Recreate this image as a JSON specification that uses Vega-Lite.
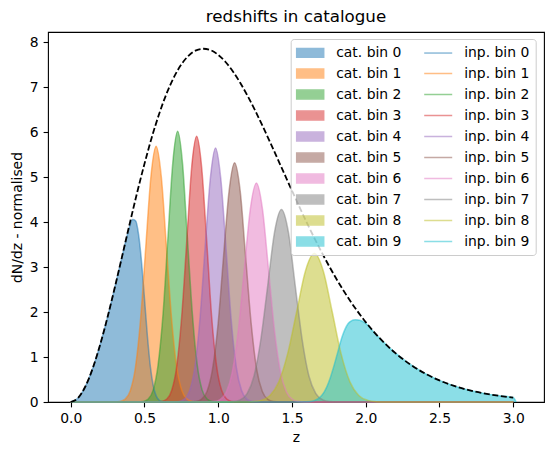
{
  "$schema": "https://vega.github.io/schema/vega-lite/v6.json",
  "width": 496,
  "height": 370,
  "autosize": {"type": "none"},
  "padding": {"left": 48, "top": 32, "right": 10, "bottom": 53},
  "background": "white",
  "config": {
    "view": {"stroke": "black", "strokeWidth": 1.1},
    "font": "DejaVu Sans",
    "axis": {"grid": false, "domain": false, "tickColor": "black", "tickWidth": 1.1, "tickSize": 4.9, "labelPadding": 4.9, "labelFontSize": 13.9, "labelColor": "black", "titleFontSize": 13.9, "titleFontWeight": "normal", "titleColor": "black", "labelFont": "DejaVu Sans", "titleFont": "DejaVu Sans"},
    "legend": {
      "title": null, "orient": "none", "legendX": 242.7, "legendY": 7, "columns": 2, "columnPadding": 19, "rowPadding": 5, "padding": 5.5,
      "fillColor": "rgba(255,255,255,0.8)", "strokeColor": "#cccccc", "cornerRadius": 3,
      "symbolSize": 196, "symbolOffset": 6, "labelOffset": 18, "symbolStrokeWidth": 1.5, "symbolOpacity": 0.5,
      "labelFontSize": 13.9, "labelFont": "DejaVu Sans", "labelColor": "black"
    }
  },
  "title": {"text": "redshifts in catalogue", "fontSize": 16.7, "fontWeight": "normal", "font": "DejaVu Sans", "color": "black", "anchor": "middle", "offset": 6},
  "datasets": {
    "bins": [
      {"c":"cat. bin 0","i":"inp. bin 0","z":0,"n":0},{"c":"cat. bin 0","i":"inp. bin 0","z":0.05,"n":0.090},{"c":"cat. bin 0","i":"inp. bin 0","z":0.10,"n":0.350},{"c":"cat. bin 0","i":"inp. bin 0","z":0.15,"n":0.756},{"c":"cat. bin 0","i":"inp. bin 0","z":0.20,"n":1.280},{"c":"cat. bin 0","i":"inp. bin 0","z":0.25,"n":1.892},{"c":"cat. bin 0","i":"inp. bin 0","z":0.30,"n":2.562},{"c":"cat. bin 0","i":"inp. bin 0","z":0.35,"n":3.261},{"c":"cat. bin 0","i":"inp. bin 0","z":0.38,"n":3.671},{"c":"cat. bin 0","i":"inp. bin 0","z":0.40,"n":3.908},{"c":"cat. bin 0","i":"inp. bin 0","z":0.42,"n":4.057},{"c":"cat. bin 0","i":"inp. bin 0","z":0.44,"n":4.030},{"c":"cat. bin 0","i":"inp. bin 0","z":0.46,"n":3.730},{"c":"cat. bin 0","i":"inp. bin 0","z":0.48,"n":3.125},{"c":"cat. bin 0","i":"inp. bin 0","z":0.50,"n":2.304},{"c":"cat. bin 0","i":"inp. bin 0","z":0.52,"n":1.463},{"c":"cat. bin 0","i":"inp. bin 0","z":0.54,"n":0.786},{"c":"cat. bin 0","i":"inp. bin 0","z":0.56,"n":0.353},{"c":"cat. bin 0","i":"inp. bin 0","z":0.58,"n":0.130},{"c":"cat. bin 0","i":"inp. bin 0","z":0.60,"n":0.040},{"c":"cat. bin 0","i":"inp. bin 0","z":0.62,"n":0.010},{"c":"cat. bin 0","i":"inp. bin 0","z":0.66,"n":0},{"c":"cat. bin 0","i":"inp. bin 0","z":3.0,"n":0},

      {"c":"cat. bin 1","i":"inp. bin 1","z":0,"n":0},{"c":"cat. bin 1","i":"inp. bin 1","z":0.299,"n":0.002},{"c":"cat. bin 1","i":"inp. bin 1","z":0.334,"n":0.0125},{"c":"cat. bin 1","i":"inp. bin 1","z":0.369,"n":0.063},{"c":"cat. bin 1","i":"inp. bin 1","z":0.404,"n":0.250},{"c":"cat. bin 1","i":"inp. bin 1","z":0.439,"n":0.770},{"c":"cat. bin 1","i":"inp. bin 1","z":0.474,"n":1.848},{"c":"cat. bin 1","i":"inp. bin 1","z":0.509,"n":3.451},{"c":"cat. bin 1","i":"inp. bin 1","z":0.544,"n":5.021},{"c":"cat. bin 1","i":"inp. bin 1","z":0.579,"n":5.69},{"c":"cat. bin 1","i":"inp. bin 1","z":0.614,"n":5.021},{"c":"cat. bin 1","i":"inp. bin 1","z":0.649,"n":3.451},{"c":"cat. bin 1","i":"inp. bin 1","z":0.684,"n":1.848},{"c":"cat. bin 1","i":"inp. bin 1","z":0.719,"n":0.770},{"c":"cat. bin 1","i":"inp. bin 1","z":0.754,"n":0.250},{"c":"cat. bin 1","i":"inp. bin 1","z":0.789,"n":0.063},{"c":"cat. bin 1","i":"inp. bin 1","z":0.824,"n":0.0125},{"c":"cat. bin 1","i":"inp. bin 1","z":0.859,"n":0.002},{"c":"cat. bin 1","i":"inp. bin 1","z":3.0,"n":0},

      {"c":"cat. bin 2","i":"inp. bin 2","z":0,"n":0},{"c":"cat. bin 2","i":"inp. bin 2","z":0.460,"n":0.0018},{"c":"cat. bin 2","i":"inp. bin 2","z":0.493,"n":0.0132},{"c":"cat. bin 2","i":"inp. bin 2","z":0.526,"n":0.0668},{"c":"cat. bin 2","i":"inp. bin 2","z":0.559,"n":0.2643},{"c":"cat. bin 2","i":"inp. bin 2","z":0.592,"n":0.8145},{"c":"cat. bin 2","i":"inp. bin 2","z":0.626,"n":1.9547},{"c":"cat. bin 2","i":"inp. bin 2","z":0.659,"n":3.6511},{"c":"cat. bin 2","i":"inp. bin 2","z":0.692,"n":5.3127},{"c":"cat. bin 2","i":"inp. bin 2","z":0.725,"n":6.02},{"c":"cat. bin 2","i":"inp. bin 2","z":0.758,"n":5.3127},{"c":"cat. bin 2","i":"inp. bin 2","z":0.791,"n":3.6511},{"c":"cat. bin 2","i":"inp. bin 2","z":0.825,"n":1.9547},{"c":"cat. bin 2","i":"inp. bin 2","z":0.858,"n":0.8145},{"c":"cat. bin 2","i":"inp. bin 2","z":0.891,"n":0.2643},{"c":"cat. bin 2","i":"inp. bin 2","z":0.924,"n":0.0668},{"c":"cat. bin 2","i":"inp. bin 2","z":0.957,"n":0.0132},{"c":"cat. bin 2","i":"inp. bin 2","z":0.990,"n":0.0018},{"c":"cat. bin 2","i":"inp. bin 2","z":3.0,"n":0},

      {"c":"cat. bin 3","i":"inp. bin 3","z":0,"n":0},{"c":"cat. bin 3","i":"inp. bin 3","z":0.584,"n":0.0018},{"c":"cat. bin 3","i":"inp. bin 3","z":0.618,"n":0.0130},{"c":"cat. bin 3","i":"inp. bin 3","z":0.652,"n":0.0656},{"c":"cat. bin 3","i":"inp. bin 3","z":0.685,"n":0.2594},{"c":"cat. bin 3","i":"inp. bin 3","z":0.719,"n":0.7996},{"c":"cat. bin 3","i":"inp. bin 3","z":0.753,"n":1.919},{"c":"cat. bin 3","i":"inp. bin 3","z":0.787,"n":3.5844},{"c":"cat. bin 3","i":"inp. bin 3","z":0.820,"n":5.2156},{"c":"cat. bin 3","i":"inp. bin 3","z":0.854,"n":5.91},{"c":"cat. bin 3","i":"inp. bin 3","z":0.888,"n":5.2156},{"c":"cat. bin 3","i":"inp. bin 3","z":0.922,"n":3.5844},{"c":"cat. bin 3","i":"inp. bin 3","z":0.955,"n":1.919},{"c":"cat. bin 3","i":"inp. bin 3","z":0.989,"n":0.7996},{"c":"cat. bin 3","i":"inp. bin 3","z":1.023,"n":0.2594},{"c":"cat. bin 3","i":"inp. bin 3","z":1.057,"n":0.0656},{"c":"cat. bin 3","i":"inp. bin 3","z":1.090,"n":0.0130},{"c":"cat. bin 3","i":"inp. bin 3","z":1.124,"n":0.0018},{"c":"cat. bin 3","i":"inp. bin 3","z":3.0,"n":0},

      {"c":"cat. bin 4","i":"inp. bin 4","z":0,"n":0},{"c":"cat. bin 4","i":"inp. bin 4","z":0.700,"n":0.0017},{"c":"cat. bin 4","i":"inp. bin 4","z":0.735,"n":0.0124},{"c":"cat. bin 4","i":"inp. bin 4","z":0.770,"n":0.0627},{"c":"cat. bin 4","i":"inp. bin 4","z":0.806,"n":0.248},{"c":"cat. bin 4","i":"inp. bin 4","z":0.841,"n":0.7644},{"c":"cat. bin 4","i":"inp. bin 4","z":0.876,"n":1.8346},{"c":"cat. bin 4","i":"inp. bin 4","z":0.911,"n":3.4267},{"c":"cat. bin 4","i":"inp. bin 4","z":0.947,"n":4.9861},{"c":"cat. bin 4","i":"inp. bin 4","z":0.982,"n":5.65},{"c":"cat. bin 4","i":"inp. bin 4","z":1.017,"n":4.9861},{"c":"cat. bin 4","i":"inp. bin 4","z":1.053,"n":3.4267},{"c":"cat. bin 4","i":"inp. bin 4","z":1.088,"n":1.8346},{"c":"cat. bin 4","i":"inp. bin 4","z":1.123,"n":0.7644},{"c":"cat. bin 4","i":"inp. bin 4","z":1.159,"n":0.248},{"c":"cat. bin 4","i":"inp. bin 4","z":1.194,"n":0.0627},{"c":"cat. bin 4","i":"inp. bin 4","z":1.229,"n":0.0124},{"c":"cat. bin 4","i":"inp. bin 4","z":1.264,"n":0.0017},{"c":"cat. bin 4","i":"inp. bin 4","z":3.0,"n":0},

      {"c":"cat. bin 5","i":"inp. bin 5","z":0,"n":0},{"c":"cat. bin 5","i":"inp. bin 5","z":0.811,"n":0.0016},{"c":"cat. bin 5","i":"inp. bin 5","z":0.849,"n":0.0117},{"c":"cat. bin 5","i":"inp. bin 5","z":0.886,"n":0.0591},{"c":"cat. bin 5","i":"inp. bin 5","z":0.924,"n":0.2335},{"c":"cat. bin 5","i":"inp. bin 5","z":0.961,"n":0.7198},{"c":"cat. bin 5","i":"inp. bin 5","z":0.999,"n":1.7274},{"c":"cat. bin 5","i":"inp. bin 5","z":1.036,"n":3.2266},{"c":"cat. bin 5","i":"inp. bin 5","z":1.074,"n":4.6949},{"c":"cat. bin 5","i":"inp. bin 5","z":1.111,"n":5.32},{"c":"cat. bin 5","i":"inp. bin 5","z":1.149,"n":4.6949},{"c":"cat. bin 5","i":"inp. bin 5","z":1.186,"n":3.2266},{"c":"cat. bin 5","i":"inp. bin 5","z":1.224,"n":1.7274},{"c":"cat. bin 5","i":"inp. bin 5","z":1.261,"n":0.7198},{"c":"cat. bin 5","i":"inp. bin 5","z":1.299,"n":0.2335},{"c":"cat. bin 5","i":"inp. bin 5","z":1.336,"n":0.0591},{"c":"cat. bin 5","i":"inp. bin 5","z":1.374,"n":0.0117},{"c":"cat. bin 5","i":"inp. bin 5","z":1.411,"n":0.0016},{"c":"cat. bin 5","i":"inp. bin 5","z":3.0,"n":0},

      {"c":"cat. bin 6","i":"inp. bin 6","z":0,"n":0},{"c":"cat. bin 6","i":"inp. bin 6","z":0.931,"n":0.0015},{"c":"cat. bin 6","i":"inp. bin 6","z":0.972,"n":0.0107},{"c":"cat. bin 6","i":"inp. bin 6","z":1.013,"n":0.0541},{"c":"cat. bin 6","i":"inp. bin 6","z":1.054,"n":0.2138},{"c":"cat. bin 6","i":"inp. bin 6","z":1.095,"n":0.6589},{"c":"cat. bin 6","i":"inp. bin 6","z":1.136,"n":1.5813},{"c":"cat. bin 6","i":"inp. bin 6","z":1.177,"n":2.9537},{"c":"cat. bin 6","i":"inp. bin 6","z":1.218,"n":4.2978},{"c":"cat. bin 6","i":"inp. bin 6","z":1.259,"n":4.87},{"c":"cat. bin 6","i":"inp. bin 6","z":1.300,"n":4.2978},{"c":"cat. bin 6","i":"inp. bin 6","z":1.341,"n":2.9537},{"c":"cat. bin 6","i":"inp. bin 6","z":1.382,"n":1.5813},{"c":"cat. bin 6","i":"inp. bin 6","z":1.423,"n":0.6589},{"c":"cat. bin 6","i":"inp. bin 6","z":1.464,"n":0.2138},{"c":"cat. bin 6","i":"inp. bin 6","z":1.505,"n":0.0541},{"c":"cat. bin 6","i":"inp. bin 6","z":1.546,"n":0.0107},{"c":"cat. bin 6","i":"inp. bin 6","z":1.587,"n":0.0015},{"c":"cat. bin 6","i":"inp. bin 6","z":3.0,"n":0},

      {"c":"cat. bin 7","i":"inp. bin 7","z":0,"n":0},{"c":"cat. bin 7","i":"inp. bin 7","z":1.056,"n":0.0013},{"c":"cat. bin 7","i":"inp. bin 7","z":1.103,"n":0.0094},{"c":"cat. bin 7","i":"inp. bin 7","z":1.149,"n":0.0475},{"c":"cat. bin 7","i":"inp. bin 7","z":1.196,"n":0.1879},{"c":"cat. bin 7","i":"inp. bin 7","z":1.243,"n":0.5791},{"c":"cat. bin 7","i":"inp. bin 7","z":1.289,"n":1.3897},{"c":"cat. bin 7","i":"inp. bin 7","z":1.336,"n":2.5958},{"c":"cat. bin 7","i":"inp. bin 7","z":1.382,"n":3.7771},{"c":"cat. bin 7","i":"inp. bin 7","z":1.429,"n":4.28},{"c":"cat. bin 7","i":"inp. bin 7","z":1.476,"n":3.7771},{"c":"cat. bin 7","i":"inp. bin 7","z":1.522,"n":2.5958},{"c":"cat. bin 7","i":"inp. bin 7","z":1.569,"n":1.3897},{"c":"cat. bin 7","i":"inp. bin 7","z":1.615,"n":0.5791},{"c":"cat. bin 7","i":"inp. bin 7","z":1.662,"n":0.1879},{"c":"cat. bin 7","i":"inp. bin 7","z":1.709,"n":0.0475},{"c":"cat. bin 7","i":"inp. bin 7","z":1.755,"n":0.0094},{"c":"cat. bin 7","i":"inp. bin 7","z":1.802,"n":0.0013},{"c":"cat. bin 7","i":"inp. bin 7","z":3.0,"n":0},

      {"c":"cat. bin 8","i":"inp. bin 8","z":0,"n":0},{"c":"cat. bin 8","i":"inp. bin 8","z":1.170,"n":0.001},{"c":"cat. bin 8","i":"inp. bin 8","z":1.230,"n":0.0073},{"c":"cat. bin 8","i":"inp. bin 8","z":1.291,"n":0.0367},{"c":"cat. bin 8","i":"inp. bin 8","z":1.351,"n":0.1453},{"c":"cat. bin 8","i":"inp. bin 8","z":1.411,"n":0.4478},{"c":"cat. bin 8","i":"inp. bin 8","z":1.471,"n":1.0748},{"c":"cat. bin 8","i":"inp. bin 8","z":1.532,"n":2.0075},{"c":"cat. bin 8","i":"inp. bin 8","z":1.592,"n":2.9211},{"c":"cat. bin 8","i":"inp. bin 8","z":1.652,"n":3.31},{"c":"cat. bin 8","i":"inp. bin 8","z":1.712,"n":2.9211},{"c":"cat. bin 8","i":"inp. bin 8","z":1.773,"n":2.0075},{"c":"cat. bin 8","i":"inp. bin 8","z":1.833,"n":1.0748},{"c":"cat. bin 8","i":"inp. bin 8","z":1.893,"n":0.4478},{"c":"cat. bin 8","i":"inp. bin 8","z":1.953,"n":0.1453},{"c":"cat. bin 8","i":"inp. bin 8","z":2.014,"n":0.0367},{"c":"cat. bin 8","i":"inp. bin 8","z":2.074,"n":0.0073},{"c":"cat. bin 8","i":"inp. bin 8","z":2.134,"n":0.001},{"c":"cat. bin 8","i":"inp. bin 8","z":3.0,"n":0},

      {"c":"cat. bin 9","i":"inp. bin 9","z":0,"n":0},{"c":"cat. bin 9","i":"inp. bin 9","z":1.50,"n":0},{"c":"cat. bin 9","i":"inp. bin 9","z":1.55,"n":0.0005},{"c":"cat. bin 9","i":"inp. bin 9","z":1.60,"n":0.004},{"c":"cat. bin 9","i":"inp. bin 9","z":1.65,"n":0.029},{"c":"cat. bin 9","i":"inp. bin 9","z":1.70,"n":0.139},{"c":"cat. bin 9","i":"inp. bin 9","z":1.72,"n":0.233},{"c":"cat. bin 9","i":"inp. bin 9","z":1.74,"n":0.365},{"c":"cat. bin 9","i":"inp. bin 9","z":1.76,"n":0.539},{"c":"cat. bin 9","i":"inp. bin 9","z":1.78,"n":0.749},{"c":"cat. bin 9","i":"inp. bin 9","z":1.80,"n":0.983},{"c":"cat. bin 9","i":"inp. bin 9","z":1.82,"n":1.224},{"c":"cat. bin 9","i":"inp. bin 9","z":1.84,"n":1.449},{"c":"cat. bin 9","i":"inp. bin 9","z":1.86,"n":1.62},{"c":"cat. bin 9","i":"inp. bin 9","z":1.88,"n":1.74},{"c":"cat. bin 9","i":"inp. bin 9","z":1.90,"n":1.80},{"c":"cat. bin 9","i":"inp. bin 9","z":1.93,"n":1.83},{"c":"cat. bin 9","i":"inp. bin 9","z":1.96,"n":1.82},{"c":"cat. bin 9","i":"inp. bin 9","z":2.00,"n":1.75},{"c":"cat. bin 9","i":"inp. bin 9","z":2.05,"n":1.575},{"c":"cat. bin 9","i":"inp. bin 9","z":2.10,"n":1.40},{"c":"cat. bin 9","i":"inp. bin 9","z":2.20,"n":1.092},{"c":"cat. bin 9","i":"inp. bin 9","z":2.30,"n":0.840},{"c":"cat. bin 9","i":"inp. bin 9","z":2.40,"n":0.638},{"c":"cat. bin 9","i":"inp. bin 9","z":2.50,"n":0.480},{"c":"cat. bin 9","i":"inp. bin 9","z":2.60,"n":0.357},{"c":"cat. bin 9","i":"inp. bin 9","z":2.70,"n":0.263},{"c":"cat. bin 9","i":"inp. bin 9","z":2.80,"n":0.192},{"c":"cat. bin 9","i":"inp. bin 9","z":2.90,"n":0.139},{"c":"cat. bin 9","i":"inp. bin 9","z":3.00,"n":0.099},{"c":"cat. bin 9","i":"inp. bin 9","z":3.02,"n":0}
    ],
    "total": [
      {"z":0,"n":0},{"z":0.05,"n":0.090},{"z":0.10,"n":0.350},{"z":0.15,"n":0.756},{"z":0.20,"n":1.280},{"z":0.25,"n":1.892},{"z":0.30,"n":2.562},{"z":0.35,"n":3.262},{"z":0.40,"n":3.967},{"z":0.45,"n":4.652},{"z":0.50,"n":5.297},{"z":0.55,"n":5.889},{"z":0.60,"n":6.412},{"z":0.65,"n":6.860},{"z":0.70,"n":7.225},{"z":0.75,"n":7.508},{"z":0.80,"n":7.706},{"z":0.85,"n":7.822},{"z":0.90,"n":7.857},{"z":0.95,"n":7.825},{"z":1.00,"n":7.721},{"z":1.05,"n":7.563},{"z":1.10,"n":7.352},{"z":1.15,"n":7.096},{"z":1.20,"n":6.804},{"z":1.25,"n":6.486},{"z":1.30,"n":6.145},{"z":1.35,"n":5.793},{"z":1.40,"n":5.430},{"z":1.45,"n":5.065},{"z":1.50,"n":4.701},{"z":1.60,"n":3.995},{"z":1.70,"n":3.340},{"z":1.80,"n":2.746},{"z":1.90,"n":2.225},{"z":2.00,"n":1.778},{"z":2.10,"n":1.402},{"z":2.20,"n":1.092},{"z":2.30,"n":0.840},{"z":2.40,"n":0.638},{"z":2.50,"n":0.480},{"z":2.60,"n":0.357},{"z":2.70,"n":0.263},{"z":2.80,"n":0.192},{"z":2.90,"n":0.139},{"z":3.00,"n":0.099}
    ]
  },
  "layer": [
    {
      "data": {"name": "bins"},
      "mark": {"type": "area", "interpolate": "monotone", "opacity": 0.5},
      "encoding": {
        "x": {"field": "z", "type": "quantitative", "scale": {"domain": [-0.154, 3.209], "nice": false, "zero": false}, "axis": {"values": [0, 0.5, 1, 1.5, 2, 2.5, 3], "format": ".1f", "title": "z", "titlePadding": 5}},
        "y": {"field": "n", "type": "quantitative", "stack": null, "scale": {"domain": [0, 8.23], "nice": false}, "axis": {"values": [0, 1, 2, 3, 4, 5, 6, 7, 8], "format": "d", "title": "dN/dz - normalised", "titlePadding": 5}},
        "color": {
          "field": "c", "type": "nominal",
          "scale": {
            "domain": ["cat. bin 0","cat. bin 1","cat. bin 2","cat. bin 3","cat. bin 4","cat. bin 5","cat. bin 6","cat. bin 7","cat. bin 8","cat. bin 9","inp. bin 0","inp. bin 1","inp. bin 2","inp. bin 3","inp. bin 4","inp. bin 5","inp. bin 6","inp. bin 7","inp. bin 8","inp. bin 9"],
            "range": ["#1f77b4","#ff7f0e","#2ca02c","#d62728","#9467bd","#8c564b","#e377c2","#7f7f7f","#bcbd22","#17becf","#1f77b4","#ff7f0e","#2ca02c","#d62728","#9467bd","#8c564b","#e377c2","#7f7f7f","#bcbd22","#17becf"]
          }
        }
      }
    },
    {
      "data": {"name": "bins"},
      "mark": {"type": "line", "interpolate": "monotone", "opacity": 0.5, "strokeWidth": 1.5},
      "encoding": {
        "x": {"field": "z", "type": "quantitative"},
        "y": {"field": "n", "type": "quantitative"},
        "color": {"field": "i", "type": "nominal"}
      }
    },
    {
      "data": {"name": "total"},
      "mark": {"type": "line", "interpolate": "monotone", "color": "black", "strokeWidth": 1.8, "strokeDash": [6, 2.6]},
      "encoding": {
        "x": {"field": "z", "type": "quantitative"},
        "y": {"field": "n", "type": "quantitative"}
      }
    },
    {
      "data": {"name": "bins"},
      "transform": [
        {"filter": "datum.z == 0"},
        {"fold": ["c", "i"], "as": ["k", "s"]}
      ],
      "mark": {"type": "point", "opacity": 0, "filled": true},
      "encoding": {
        "x": {"field": "z", "type": "quantitative"},
        "y": {"field": "n", "type": "quantitative"},
        "color": {"field": "s", "type": "nominal"},
        "shape": {
          "field": "s", "type": "nominal",
          "scale": {
            "domain": ["cat. bin 0","cat. bin 1","cat. bin 2","cat. bin 3","cat. bin 4","cat. bin 5","cat. bin 6","cat. bin 7","cat. bin 8","cat. bin 9","inp. bin 0","inp. bin 1","inp. bin 2","inp. bin 3","inp. bin 4","inp. bin 5","inp. bin 6","inp. bin 7","inp. bin 8","inp. bin 9"],
            "range": ["M-1.93,-0.63H1.93V0.63H-1.93Z","M-1.93,-0.63H1.93V0.63H-1.93Z","M-1.93,-0.63H1.93V0.63H-1.93Z","M-1.93,-0.63H1.93V0.63H-1.93Z","M-1.93,-0.63H1.93V0.63H-1.93Z","M-1.93,-0.63H1.93V0.63H-1.93Z","M-1.93,-0.63H1.93V0.63H-1.93Z","M-1.93,-0.63H1.93V0.63H-1.93Z","M-1.93,-0.63H1.93V0.63H-1.93Z","M-1.93,-0.63H1.93V0.63H-1.93Z","M-2,0H2","M-2,0H2","M-2,0H2","M-2,0H2","M-2,0H2","M-2,0H2","M-2,0H2","M-2,0H2","M-2,0H2","M-2,0H2"]
          }
        }
      }
    }
  ]
}
